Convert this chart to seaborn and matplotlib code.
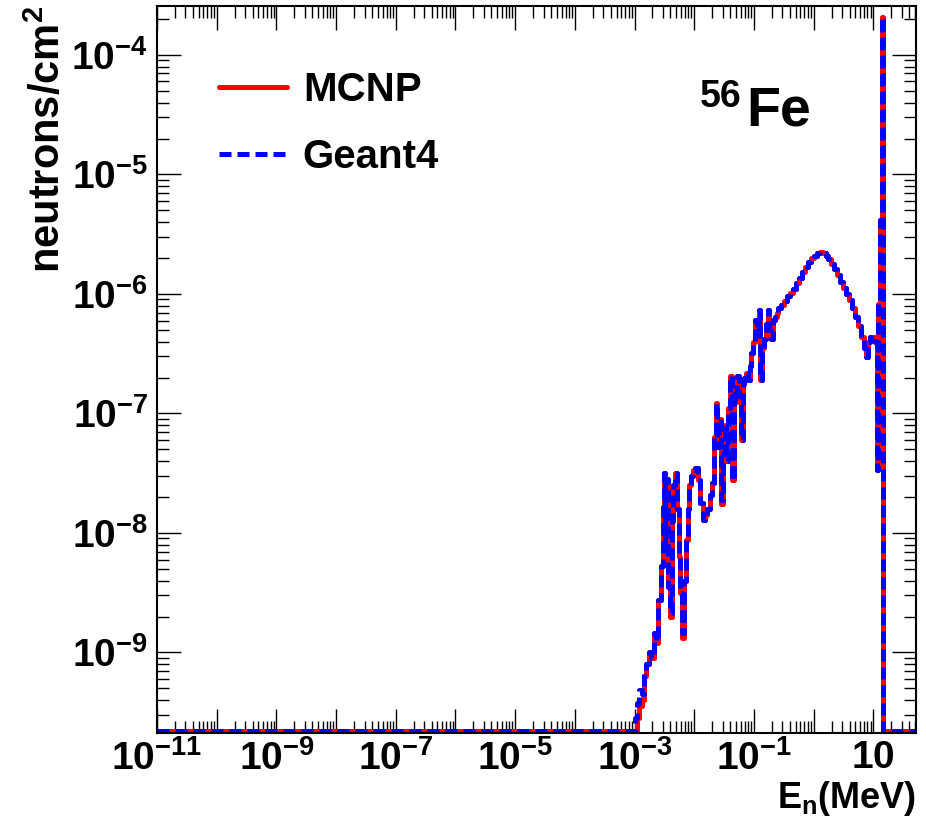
import numpy as np
import pandas as pd
import matplotlib
matplotlib.use("Agg")
import matplotlib.pyplot as plt
import matplotlib.ticker as mticker
import seaborn as sns

# ======================
# data
# ======================
# bin low edges, log10(E / MeV); the last entry is the upper edge of the last bin
log_e = [-11.0, -3.00, -2.96, -2.92, -2.88, -2.84, -2.80, -2.76, -2.72, -2.68,
         -2.64, -2.60, -2.56, -2.53, -2.51, -2.49, -2.47, -2.44, -2.41, -2.38,
         -2.35, -2.32, -2.29, -2.26, -2.23, -2.20, -2.17, -2.14, -2.11, -2.08,
         -2.05, -2.02, -1.98, -1.94, -1.90, -1.86, -1.82, -1.78, -1.74, -1.70,
         -1.67, -1.64, -1.61, -1.58, -1.55, -1.52, -1.49, -1.46, -1.43, -1.40,
         -1.37, -1.34, -1.31, -1.28, -1.25, -1.22, -1.19, -1.16, -1.13, -1.10,
         -1.07, -1.04, -1.01, -0.98, -0.95, -0.92, -0.89, -0.86, -0.83, -0.80,
         -0.77, -0.74, -0.71, -0.68, -0.65, -0.62, -0.59, -0.55, -0.50, -0.45,
         -0.40, -0.35, -0.30, -0.25, -0.20, -0.15, -0.10, -0.05, 0.00, 0.05,
         0.10, 0.15, 0.20, 0.25, 0.30, 0.35, 0.40, 0.45, 0.50, 0.55,
         0.60, 0.65, 0.70, 0.75, 0.80, 0.85, 0.88, 0.91, 0.94, 0.97,
         1.00, 1.03, 1.06, 1.08, 1.11, 1.14, 1.17, 1.72]

# log10(neutrons/cm2) per bin, None = empty bin
geant4_log = [None, -9.55, -9.42, -9.31, -9.35, -9.17, -9.10, -9.00, -9.05, -8.84,
              -8.90, -8.56, -8.28, -7.78, -7.50, -8.10, -7.55, -8.45, -8.67, -7.90,
              -7.60, -7.50, -7.80, -8.20, -8.50, -8.84, -8.40, -8.06, -7.80, -7.60,
              -7.52, -7.47, -7.46, -7.56, -7.75, -7.89, -7.85, -7.80, -7.68, -7.58,
              -7.20, -6.91, -7.28, -7.05, -7.72, -7.33, -7.10, -7.40, -6.95, -6.69,
              -7.56, -6.80, -6.90, -6.69, -6.85, -7.22, -6.75, -6.70, -6.66, -6.72,
              -6.60, -6.49, -6.40, -6.22, -6.30, -6.13, -6.72, -6.45, -6.38, -6.25,
              -6.13, -6.30, -6.38, -6.22, -6.19, -6.16, -6.12, -6.09, -6.06, -6.02,
              -5.99, -5.96, -5.91, -5.87, -5.82, -5.77, -5.73, -5.70, -5.68, -5.66,
              -5.65, -5.66, -5.68, -5.71, -5.75, -5.79, -5.84, -5.90, -5.95, -6.00,
              -6.05, -6.12, -6.19, -6.27, -6.36, -6.45, -6.53, -6.40, -6.36, -6.38,
              -6.36, -6.40, -7.47, -6.08, -5.38, -3.68, None, None]

mcnp_log = [None, None, -9.55, -9.45, -9.40, -9.20, -9.10, -9.02, -9.05, -8.84,
            -8.92, -8.56, -8.28, -7.78, -7.50, -8.12, -7.55, -8.45, -8.70, -7.90,
            -7.60, -7.50, -7.80, -8.20, -8.50, -8.88, -8.40, -8.06, -7.80, -7.60,
            -7.52, -7.47, -7.46, -7.56, -7.75, -7.89, -7.85, -7.80, -7.68, -7.58,
            -7.20, -6.91, -7.28, -7.05, -7.76, -7.33, -7.10, -7.40, -6.95, -6.69,
            -7.56, -6.80, -6.90, -6.69, -6.85, -7.22, -6.75, -6.70, -6.66, -6.72,
            -6.60, -6.49, -6.40, -6.22, -6.30, -6.13, -6.72, -6.45, -6.38, -6.25,
            -6.13, -6.30, -6.38, -6.22, -6.19, -6.16, -6.12, -6.09, -6.06, -6.02,
            -5.99, -5.96, -5.91, -5.87, -5.82, -5.77, -5.73, -5.70, -5.68, -5.66,
            -5.65, -5.66, -5.68, -5.71, -5.75, -5.79, -5.84, -5.90, -5.95, -6.00,
            -6.05, -6.12, -6.19, -6.27, -6.36, -6.45, -6.53, -6.40, -6.36, -6.38,
            -6.36, -6.40, -7.47, -6.08, -5.38, -3.68, None, None]

x_range = [1e-11, 52.0]
y_range = [2.12e-10, 2.57e-4]
zero_level = 2.2e-10  # where ROOT draws empty bins

x_tick_vals = [1e-11, 1e-10, 1e-9, 1e-8, 1e-7, 1e-6, 1e-5, 1e-4, 1e-3, 1e-2, 1e-1, 1.0, 10.0]
x_tick_labels = [r"$\mathbf{10^{-11}}$", "", r"$\mathbf{10^{-9}}$", "", r"$\mathbf{10^{-7}}$", "",
                 r"$\mathbf{10^{-5}}$", "", r"$\mathbf{10^{-3}}$", "", r"$\mathbf{10^{-1}}$", "",
                 r"$\mathbf{10}$"]
y_tick_vals = [1e-9, 1e-8, 1e-7, 1e-6, 1e-5, 1e-4]
y_tick_labels = [r"$\mathbf{10^{-9}}$", r"$\mathbf{10^{-8}}$", r"$\mathbf{10^{-7}}$",
                 r"$\mathbf{10^{-6}}$", r"$\mathbf{10^{-5}}$", r"$\mathbf{10^{-4}}$"]


def to_frame(logs, name):
    """log list -> DataFrame with steps-post points"""
    e = np.power(10.0, np.array(log_e))
    f = np.array([zero_level if v is None else 10.0 ** v for v in logs])
    return pd.DataFrame({"E": e, "flux": f, "code": name})


mcnp = to_frame(mcnp_log, "MCNP")
g4 = to_frame(geant4_log, "Geant4")

# ======================
# style
# ======================
sns.set_theme(style="white")
plt.rcParams["font.family"] = ["Liberation Sans", "DejaVu Sans"]
plt.rcParams["font.weight"] = "bold"
plt.rcParams["mathtext.fontset"] = "custom"
for k in ["rm", "it", "bf", "sf"]:
    plt.rcParams["mathtext." + k] = "Liberation Sans:bold"
for k in ["text.color", "axes.labelcolor", "xtick.color", "ytick.color", "axes.edgecolor"]:
    plt.rcParams[k] = "black"

fig = plt.figure(figsize=(9.26, 8.24), dpi=100)
ax = fig.add_axes([157 / 926, 1 - 733 / 824, (916 - 157) / 926, (733 - 6) / 824])
ax.set_xscale("log")
ax.set_yscale("log")

sns.lineplot(data=mcnp, x="E", y="flux", ax=ax, color="#ff0000", lw=3.6,
             drawstyle="steps-post", estimator=None, sort=False, label="MCNP")
sns.lineplot(data=g4, x="E", y="flux", ax=ax, color="#0000ff", lw=3.6,
             linestyle=(0, (2.4, 1.2)), drawstyle="steps-post",
             estimator=None, sort=False, label="Geant4")

ax.set_xlim(x_range)
ax.set_ylim(y_range)

# axes & ticks, ROOT look
ax.xaxis.set_major_locator(mticker.FixedLocator(x_tick_vals))
ax.xaxis.set_major_formatter(mticker.FixedFormatter(x_tick_labels))
ax.xaxis.set_minor_locator(mticker.LogLocator(base=10, subs=np.arange(2, 10), numticks=100))
ax.xaxis.set_minor_formatter(mticker.NullFormatter())
ax.yaxis.set_major_locator(mticker.FixedLocator(y_tick_vals))
ax.yaxis.set_major_formatter(mticker.FixedFormatter(y_tick_labels))
ax.yaxis.set_minor_locator(mticker.LogLocator(base=10, subs=np.arange(2, 10), numticks=100))
ax.yaxis.set_minor_formatter(mticker.NullFormatter())

ax.tick_params(which="both", direction="in", top=True, right=True, bottom=True, left=True,
               color="black", width=1.0)
ax.tick_params(which="major", length=17)
ax.tick_params(which="minor", length=8.5)
ax.tick_params(axis="x", which="major", labelsize=28, pad=5, labelcolor="black")
ax.tick_params(axis="y", which="major", labelsize=28, pad=6.5, labelcolor="black")
for s in ax.spines.values():
    s.set_linewidth(1.5)
    s.set_color("black")

ax.set_xlabel("")
ax.set_ylabel("neutrons/cm$^{2}$", fontsize=30, fontweight="bold", loc="top", color="black")
ax.yaxis.set_label_coords(-0.116, 1.0)
ax.text(1.0, -0.103, r"$E_{n}$(MeV)", transform=ax.transAxes, ha="right",
        va="baseline", fontsize=26, fontweight="bold", color="black")

# isotope label
ax.text(0.777, 0.836, "Fe", transform=ax.transAxes, ha="left", va="baseline",
        fontsize=40, fontweight="bold", color="black")
ax.text(0.715, 0.861, "56", transform=ax.transAxes, ha="left", va="baseline",
        fontsize=27, fontweight="bold", color="black")

h, l = ax.get_legend_handles_labels()
leg = ax.legend(h, l, loc="upper left", bbox_to_anchor=(0.0817, 0.910), frameon=False,
                fontsize=29, handlelength=1.68, handletextpad=0.4, labelspacing=0.72,
                borderpad=0, borderaxespad=0)
for t in leg.get_texts():
    t.set_color("black")

fig.savefig("out.png", dpi=100)
